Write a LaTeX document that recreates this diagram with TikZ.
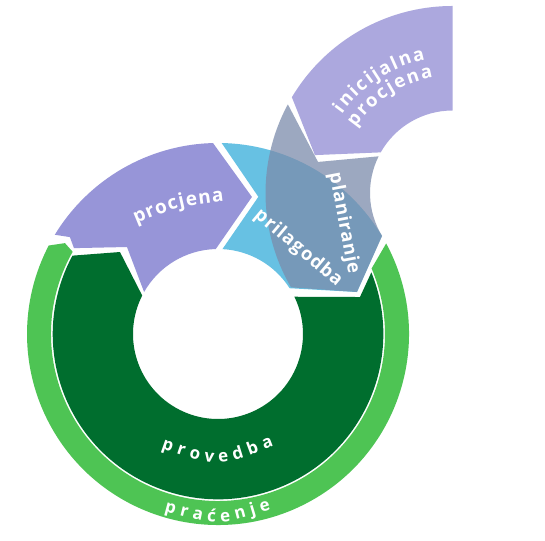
\documentclass[tikz,border=0pt]{standalone}
\usepackage{fontspec}
\setmainfont{Open Sans}
\usetikzlibrary{decorations.text}
\definecolor{purpA}{HTML}{9795D8}
\definecolor{purpB}{HTML}{ACA8DE}
\definecolor{blueA}{HTML}{67C1E3}
\definecolor{grayA}{HTML}{7C8CAB}
\definecolor{greenD}{HTML}{006E2E}
\definecolor{greenL}{HTML}{4EC454}
\newcommand\lblfont[1]{\bfseries\fontsize{#1}{#1}\selectfont\color{white}}
\tikzset{
  seglabel/.style={decorate, decoration={text along path, text={|\lblfont{#1}|\labeltext}, text align={fit to path}}},
}
\begin{document}
\begin{tikzpicture}[x=1pt,y=1pt]
\fill[white] (0,0) rectangle (545,540);
\useasboundingbox (0,0) rectangle (545,540);
% main ring
\begin{scope}[shift={(218pt,206pt)}]
  % pracenje (light green)
  \fill[greenL] (28.3:191pt) arc[start angle=28.3, end angle=-207.6, radius=191pt]
     -- (149.3:178pt) -- (150.5:167pt) arc[start angle=150.5, end angle=383.1, radius=167pt] -- cycle;
  % provedba (dark green)
  \fill[greenD] (26:85pt) -- (14.6:146.7pt) -- (21.9:165.3pt)
     arc[start angle=21.9, end angle=-208.3, radius=165.3pt]
     -- (140.1:127.8pt) -- (153.1:85pt) arc[start angle=153.1, end angle=386, radius=85pt] -- cycle;
  % procjena (purple)
  \fill[purpA] (148.7:191pt) -- (146.8:177pt) -- (149.2:167.7pt) -- (136.3:125.9pt) -- (150.4:85pt)
     arc[start angle=150.4, end angle=91.5, radius=85pt] -- (76.1:141.2pt) -- (91.5:191pt)
     arc[start angle=91.5, end angle=148.7, radius=191pt] -- cycle;
  % prilagodba (blue)
  \fill[blueA] (88.9:191pt) arc[start angle=88.9, end angle=30.9, radius=191pt]
     -- (16.8:145.2pt) -- (32.6:85pt) arc[start angle=32.6, end angle=87, radius=85pt]
     -- (73.6:143pt) -- cycle;
\end{scope}
% second ring
\begin{scope}[shift={(452.5pt,347pt)}]
  % inicijalna procjena
  \fill[purpB] (90:82.5pt) -- (90:187pt) arc[start angle=90, end angle=149.2, radius=187pt]
     -- (164.6:142.7pt) -- (150.5:82.5pt) arc[start angle=150.5, end angle=90, radius=82.5pt] -- cycle;
  % planiranje (translucent)
  \fill[grayA, fill opacity=0.75] (151.7:187pt) -- (167:138pt) -- (153.6:82.5pt)
     arc[start angle=153.6, end angle=211.4, radius=82.5pt] -- (226:137.6pt) -- (210.3:187pt)
     arc[start angle=210.3, end angle=151.7, radius=187pt] -- cycle;
  % labels on second ring
  \def\labeltext{inicijalna}
  \path[seglabel=18.5] (144.5:136pt) arc[start angle=144.5, end angle=101.5, radius=136pt];
  \def\labeltext{procjena}
  \path[seglabel=18.5] (146:117pt) arc[start angle=146, end angle=99.5, radius=117pt];
\end{scope}
% labels on main ring
\def\labeltext{procjena}
\path[seglabel=19] (136pt,316pt) .. controls (178.4pt,333.5pt) .. (224pt,339pt);
\def\labeltext{prilagodba}
\path[seglabel=18.5] (253.5pt,323pt) -- (337pt,253pt);
\def\labeltext{planiranje}
\path[seglabel=18.5] (329.5pt,366pt) -- (348.6pt,265.5pt);
\def\labeltext{provedba}
\path[seglabel=17] (161pt,92pt) .. controls (217.5pt,72pt) .. (274pt,94pt);
\def\labeltext{praćenje}
\path[seglabel=17] (164pt,28.5pt) .. controls (217.5pt,14pt) .. (271pt,30.5pt);
\end{tikzpicture}
\end{document}
